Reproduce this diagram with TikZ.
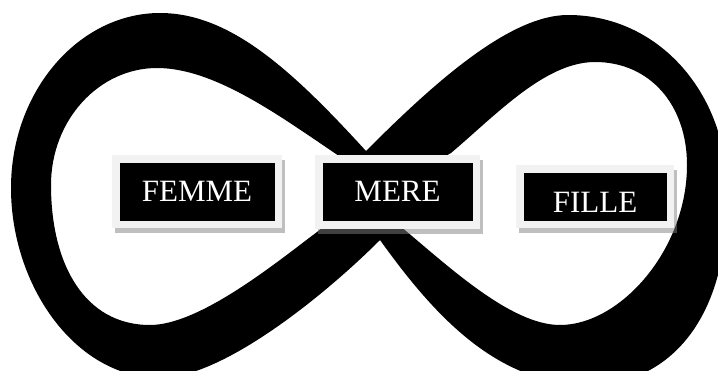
\documentclass[tikz,border=0pt]{standalone}
\usepackage{fontspec}
\setmainfont{Liberation Serif}
\usetikzlibrary{backgrounds}
\definecolor{boxrim}{RGB}{242,242,242}
\begin{document}
\begin{tikzpicture}[x=1pt,y=-1pt,
  wordbox/.style={draw=boxrim, line width=7.5pt, fill=black, text=white,
    font=\fontsize{31}{37}\selectfont, inner sep=0pt},
  boxshadow/.style={fill=gray, fill opacity=0.5},
  ink/.style={fill=black, even odd rule}]
\useasboundingbox (0,0) rectangle (718,370);
\node[wordbox, minimum width=162.5pt, minimum height=65.5pt] (femme) at (197,191.5) {FEMME};
\node[wordbox, minimum width=157.5pt, minimum height=66pt] (mere) at (397.5,191.75) {MERE};
\node[wordbox, minimum width=150.5pt, minimum height=55.5pt] (fille) at (595,196.5) {\raisebox{-5.5pt}[\height][\depth]{FILLE}};
\begin{scope}[on background layer]
  \clip (0,0) rectangle (718,370);
  \fill[ink]
    % outer contour
    (366,151) .. controls (292,70) and (230,13) .. (160,13)
      .. controls (79,13) and (11,91) .. (11,188)
      .. controls (11,285) and (75,378) .. (160,378)
      .. controls (222,378) and (323,297) .. (380,240)
      .. controls (438,321) and (500,385) .. (590,385)
      .. controls (660,385) and (730,330) .. (727,190)
      .. controls (727,95) and (660,15) .. (568,15)
      .. controls (508,15) and (430,87) .. (366,151) -- cycle
    % left hole
    (345,160) .. controls (285,120) and (217,68) .. (157,68)
      .. controls (99,68) and (51,120) .. (51,185)
      .. controls (51,265) and (85,325) .. (150,325)
      .. controls (200,325) and (277,262) .. (317,232)
      .. controls (345,210) and (360,180) .. (345,160) -- cycle
    % right hole
    (451,153) .. controls (496,115) and (545,62) .. (595,62)
      .. controls (650,62) and (687,105) .. (687,165)
      .. controls (687,250) and (620,325) .. (560,325)
      .. controls (510,325) and (446,264) .. (400,226)
      .. controls (385,205) and (420,170) .. (451,153) -- cycle;
  \foreach \n in {femme,mere,fille}
    \fill[boxshadow] ([shift={(3,5)}]\n.north west) rectangle ([shift={(3,5)}]\n.south east);
\end{scope}
\end{tikzpicture}
\end{document}
